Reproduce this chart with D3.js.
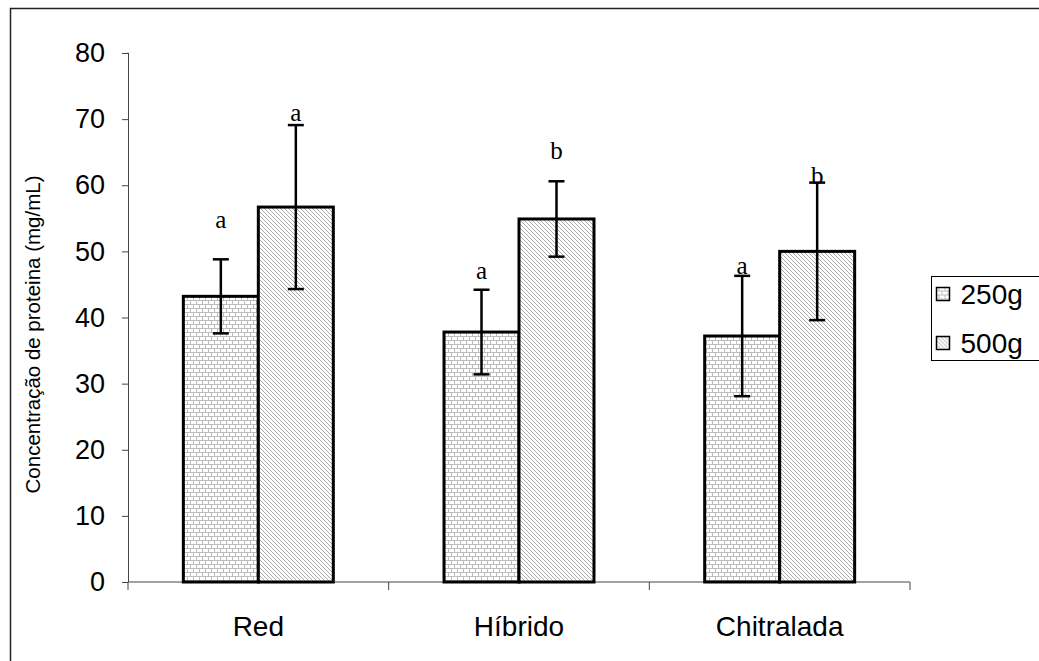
<!DOCTYPE html>
<html>
<head>
<meta charset="utf-8">
<script src="https://cdn.jsdelivr.net/npm/d3@7"></script>
<style>
  body { margin: 0; background: #fff; }
  svg { display: block; font-family: "Liberation Sans", Arial, sans-serif; }
</style>
</head>
<body>
<div id="visualization"></div>
<script>
const categories = ["Red", "Híbrido", "Chitralada"];
const series = ["250g", "500g"];
const means250 = [43.2, 37.8, 37.2];
const means500 = [56.7, 54.9, 50.0];
const err250 = [5.6, 6.4, 9.1];
const err500 = [12.4, 5.7, 10.4];
const letters250 = ["a", "a", "a"];
const letters500 = ["a", "b", "b"];
const letterY250 = [54.9, 47.2, 47.9];
const letterY500 = [71.1, 65.3, 61.5];
const yTicks = [0, 10, 20, 30, 40, 50, 60, 70, 80];

const width = 1039, height = 661;
const margin = {top: 53, bottom: 79, left: 128, right: 129};

const svg = d3.select("#visualization").append("svg")
  .attr("width", width).attr("height", height);

const defs = svg.append("defs");
// brick-like fill for 250g
const brick = defs.append("pattern").attr("id", "brick")
  .attr("patternUnits", "userSpaceOnUse").attr("width", 6).attr("height", 8);
brick.append("rect").attr("width", 6).attr("height", 8).attr("fill", "#fff");
brick.append("path")
  .attr("d", "M0,0.5H6M0,4.5H6M1.5,0.5V4.5M4.5,4.5V8.5")
  .attr("stroke", "#bdbdbd").attr("stroke-width", 1);
// diagonal fill for 500g
const diag = defs.append("pattern").attr("id", "diag")
  .attr("patternUnits", "userSpaceOnUse").attr("width", 4).attr("height", 4);
diag.append("rect").attr("width", 4).attr("height", 4).attr("fill", "#fff");
diag.append("path")
  .attr("d", "M0,0L4,4M-1,3L1,5M3,-1L5,1")
  .attr("stroke", "#aaa").attr("stroke-width", 1);

const fills = {"250g": "url(#brick)", "500g": "url(#diag)"};

// outer frame (runs off the right and bottom)
svg.append("rect")
  .attr("x", 10.5).attr("y", 8.5).attr("width", width + 20).attr("height", height + 20)
  .attr("fill", "none").attr("stroke", "#222").attr("stroke-width", 1.5);

const x = d3.scaleBand().domain(categories)
  .range([margin.left, width - margin.right]);
const xInner = d3.scaleBand().domain(series)
  .range([0, x.bandwidth()]).paddingOuter(0.738);
const y = d3.scaleLinear().domain([0, 80])
  .range([height - margin.bottom, margin.top]);

// y axis
const yAxis = svg.append("g")
  .attr("transform", `translate(${margin.left},0)`)
  .call(d3.axisLeft(y).tickValues(yTicks).tickSize(6).tickPadding(17));
yAxis.select(".domain").attr("stroke", "#444").attr("d", `M-0.5,${y(80)}H0.5V${y(0)}`);
yAxis.selectAll(".tick line").attr("stroke", "#444");
yAxis.selectAll("text").attr("font-size", 27).attr("fill", "#000");

// x axis: ticks at category boundaries
const xAxis = svg.append("g").attr("transform", `translate(0,${y(0)})`);
xAxis.append("line")
  .attr("x1", margin.left).attr("x2", width - margin.right)
  .attr("stroke", "#444");
xAxis.selectAll(".bound")
  .data(categories.map(c => x(c)).concat([x(categories[2]) + x.bandwidth()]))
  .join("line").attr("class", "bound")
  .attr("x1", d => d).attr("x2", d => d).attr("y1", 0).attr("y2", 8)
  .attr("stroke", "#444");
xAxis.selectAll(".cat").data(categories).join("text")
  .attr("class", "cat")
  .attr("x", d => x(d) + x.bandwidth() / 2).attr("y", 54)
  .attr("text-anchor", "middle").attr("font-size", 28)
  .text(d => d);

// y title
svg.append("text")
  .attr("transform", `translate(40,${(y(0) + y(80)) / 2 + 17}) rotate(-90)`)
  .attr("text-anchor", "middle").attr("font-size", 20.5)
  .text("Concentração de proteina (mg/mL)");

const rows = [];
categories.forEach((c, i) => {
  rows.push({cat: c, s: "250g", v: means250[i], e: err250[i], l: letters250[i], ly: letterY250[i]});
  rows.push({cat: c, s: "500g", v: means500[i], e: err500[i], l: letters500[i], ly: letterY500[i]});
});

const g = svg.append("g");
g.selectAll("rect").data(rows).join("rect")
  .attr("x", d => x(d.cat) + xInner(d.s))
  .attr("y", d => y(d.v))
  .attr("width", xInner.bandwidth())
  .attr("height", d => y(0) - y(d.v))
  .attr("fill", d => fills[d.s])
  .attr("stroke", "#000").attr("stroke-width", 3);

const cx = d => x(d.cat) + xInner(d.s) + xInner.bandwidth() / 2;
const eb = g.selectAll(".err").data(rows).join("g").attr("class", "err")
  .attr("stroke", "#000").attr("stroke-width", 2.5);
eb.append("line").attr("x1", cx).attr("x2", cx)
  .attr("y1", d => y(d.v + d.e)).attr("y2", d => y(d.v - d.e));
eb.append("line").attr("x1", d => cx(d) - 8).attr("x2", d => cx(d) + 8)
  .attr("y1", d => y(d.v + d.e)).attr("y2", d => y(d.v + d.e));
eb.append("line").attr("x1", d => cx(d) - 8).attr("x2", d => cx(d) + 8)
  .attr("y1", d => y(d.v - d.e)).attr("y2", d => y(d.v - d.e));

g.selectAll(".lbl").data(rows).join("text").attr("class", "lbl")
  .attr("x", cx).attr("y", d => y(d.ly))
  .attr("dy", "0.35em").attr("text-anchor", "middle")
  .attr("font-family", "'Liberation Serif', 'Times New Roman', serif")
  .attr("font-size", 25).text(d => d.l);

// legend
const legend = svg.append("g").attr("transform", "translate(931.5,276.5)");
legend.append("rect").attr("width", 120).attr("height", 84)
  .attr("fill", "#fff").attr("stroke", "#000").attr("stroke-width", 1);
const item = legend.selectAll(".item").data(series).join("g")
  .attr("transform", (d, i) => `translate(0,${18 + i * 49})`);
item.append("rect").attr("x", 5).attr("y", -7).attr("width", 13).attr("height", 13)
  .attr("fill", d => fills[d]).attr("stroke", "#000").attr("stroke-width", 1.5);
item.append("text").attr("x", 29).attr("dy", "0.35em")
  .attr("font-size", 28).text(d => d);
</script>
</body>
</html>
